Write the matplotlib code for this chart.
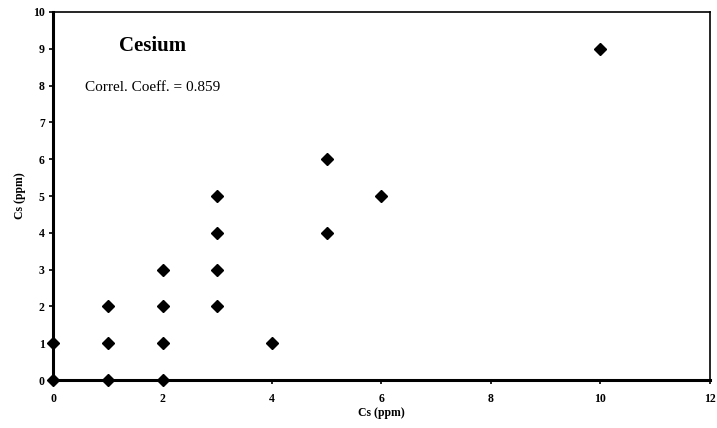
import matplotlib.pyplot as plt
import numpy as np

plt.rcParams['font.family'] = ['Liberation Serif', 'DejaVu Serif']

cs_x = [0, 0, 1, 1, 1, 2, 2, 2, 2, 3, 3, 3, 3, 4, 5, 5, 6, 10]
cs_y = [0, 1, 0, 1, 2, 0, 1, 2, 3, 2, 3, 4, 5, 1, 4, 6, 5, 9]
x_ticks = [0, 2, 4, 6, 8, 10, 12]
y_ticks = [0, 1, 2, 3, 4, 5, 6, 7, 8, 9, 10]

fig = plt.figure(figsize=(7.17, 4.28), dpi=100)
ax = fig.add_axes([0.074, 0.112, 0.916, 0.860])

ax.plot(cs_x, cs_y, linestyle='none', marker='D', color='black',
        markersize=5.8, clip_on=False, zorder=3)

ax.set_xlim(0, 12)
ax.set_ylim(0, 10)
ax.set_xticks(x_ticks)
ax.set_yticks(y_ticks)
ax.tick_params(direction='out', length=3, width=1.2, labelsize=8.5)
ax.tick_params(axis='x', pad=6)
ax.tick_params(axis='y', pad=3)
for lab in ax.get_xticklabels() + ax.get_yticklabels():
    lab.set_fontweight('bold')

ax.spines['left'].set_linewidth(2.2)
ax.spines['bottom'].set_linewidth(2.2)
ax.spines['top'].set_linewidth(1.2)
ax.spines['right'].set_linewidth(1.2)

ax.set_xlabel('Cs (ppm)', fontsize=8.5, fontweight='bold', labelpad=2)
ax.set_ylabel('Cs (ppm)', fontsize=8.5, fontweight='bold', labelpad=5)

ax.text(1.81, 9.08, 'Cesium', fontsize=15, fontweight='bold', ha='center', va='center')
ax.text(0.58, 7.95, 'Correl. Coeff. = 0.859', fontsize=11, ha='left', va='center')

fig.savefig('out.png', dpi=100)
